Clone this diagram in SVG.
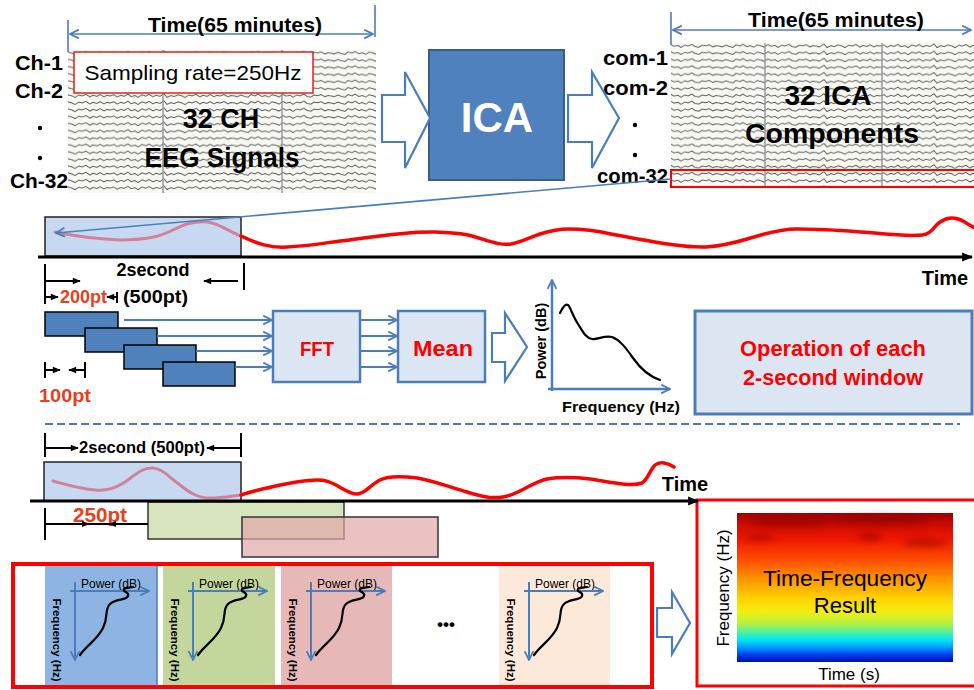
<svg xmlns="http://www.w3.org/2000/svg" width="974" height="690" viewBox="0 0 974 690">
<defs>
<style>
.b{font-family:"Liberation Sans",Arial,sans-serif;font-weight:bold;fill:#000}
.n{font-family:"Liberation Sans",Arial,sans-serif;font-weight:normal;fill:#000}
.r{fill:#ff0000}
.o{fill:#e8401a}
.bl{stroke:#4a7ebb;fill:none}
.blk{stroke:#000;fill:none}
.blockarrow{fill:#fff;stroke:#4a7ebb;stroke-width:2.2;stroke-linejoin:miter}
.win{fill:#c6d9f1;stroke:#222;stroke-width:1.5}
.proc{fill:#dce6f2;stroke:#4a7ebb;stroke-width:2.5}
.bar{fill:#4f81bd;stroke:#000;stroke-width:1.5}
.wave{fill:none;stroke:#ff0000;stroke-width:3.5;stroke-linecap:round}
.pale{fill:none;stroke:#d8485e;stroke-opacity:0.6;stroke-width:3;stroke-linecap:round}
.eegbg{fill:#f6f8f1}
.grid{stroke:#9a9a9a;stroke-width:1.5}
.spec{fill:none;stroke:#000;stroke-width:2.2;stroke-linecap:round}
</style>
<marker id="chev" viewBox="0 0 10 10" refX="9" refY="5" markerUnits="userSpaceOnUse" markerWidth="11" markerHeight="11" orient="auto-start-reverse">
<path d="M1,1 L9,5 L1,9" fill="none" stroke="#4a7ebb" stroke-width="1.6"/>
</marker>
<marker id="tri" viewBox="0 0 10 10" refX="9" refY="5" markerUnits="userSpaceOnUse" markerWidth="9" markerHeight="8" orient="auto-start-reverse">
<path d="M0,1 L10,5 L0,9 Z" fill="#000"/>
</marker>
<marker id="bigtri" viewBox="0 0 10 10" refX="9" refY="5" markerUnits="userSpaceOnUse" markerWidth="12" markerHeight="11" orient="auto">
<path d="M0,1 L10,5 L0,9 Z" fill="#000"/>
</marker>
<!-- EEG trace texture: one jittered trace per tile -->
<pattern id="eeg" patternUnits="userSpaceOnUse" width="110" height="7.1">
<path d="M0,3.5 L4,2.4 7,4.6 11,2.9 14,4.0 18,1.8 21,4.2 25,3.2 28,5.0 32,2.5 36,3.8 39,2.0 43,4.4 46,3.0 50,3.9 54,1.4 57,4.9 61,3.1 64,4.2 68,2.4 72,3.6 75,5.1 79,2.6 82,3.5 86,2.0 90,4.5 93,2.9 97,4.0 100,2.3 104,4.4 107,3.0 110,3.5" fill="none" stroke="#555" stroke-width="0.9"/>
</pattern>
<pattern id="eegB" patternUnits="userSpaceOnUse" width="97" height="7.1" x="40">
<path d="M0,3.5 L3,4.3 7,2.6 10,3.8 14,4.8 17,2.3 21,3.6 24,1.8 28,4.2 31,3.1 35,4.7 38,2.4 42,3.3 45,4.5 49,2.1 52,3.7 56,2.9 59,4.9 63,2.6 66,3.6 70,1.9 73,4.0 77,4.6 80,2.7 84,3.4 87,2.2 91,4.3 94,3.1 97,3.5" fill="none" stroke="#555" stroke-width="0.9"/>
</pattern>
<clipPath id="cl1"><rect x="68" y="50" width="308" height="143"/></clipPath>
<clipPath id="cl2"><rect x="671" y="43" width="303" height="145"/></clipPath>
<linearGradient id="tf" x1="0" y1="0" x2="0" y2="1">
<stop offset="0" stop-color="#a00000"/>
<stop offset="0.07" stop-color="#c80a00"/>
<stop offset="0.18" stop-color="#f01800"/>
<stop offset="0.32" stop-color="#ff5000"/>
<stop offset="0.45" stop-color="#ff9800"/>
<stop offset="0.57" stop-color="#ffd000"/>
<stop offset="0.66" stop-color="#f4ee10"/>
<stop offset="0.74" stop-color="#b8f040"/>
<stop offset="0.80" stop-color="#50f0a0"/>
<stop offset="0.85" stop-color="#00e8f0"/>
<stop offset="0.90" stop-color="#00a0ff"/>
<stop offset="0.95" stop-color="#0040f0"/>
<stop offset="1" stop-color="#0010a0"/>
</linearGradient>
<filter id="soft" x="-50%" y="-50%" width="200%" height="200%"><feGaussianBlur stdDeviation="3"/></filter>
<!-- spectrum sketch used in every window panel -->
<g id="panel">
<text class="n" x="81" y="588" font-size="12">Power (dB)</text>
<line class="bl" x1="70" y1="591" x2="149" y2="591" stroke-width="2" marker-end="url(#chev)"/>
<line class="bl" x1="75" y1="582" x2="75" y2="660" stroke-width="2" marker-end="url(#chev)"/>
<text class="b" font-size="11.5" text-anchor="middle" transform="translate(53,640) rotate(90)">Frequency (Hz)</text>
<path class="spec" d="M80,655 C87,645 97,640 103,628 C109,616 104,610 110,604 C116,598 126,601 128,596 C130,592 122,592 124,589 C126,587 130,588 133,587"/>
</g>
</defs>

<rect x="0" y="0" width="974" height="690" fill="#fff"/>

<!-- raw EEG recording -->
<g id="eeg-signals">
<rect class="eegbg" x="68" y="50" width="308" height="143"/>
<g clip-path="url(#cl1)">
<rect x="68" y="50" width="154" height="143" fill="url(#eeg)"/>
<rect x="222" y="50" width="154" height="143" fill="url(#eegB)"/>
</g>
<line class="grid" x1="163" y1="50" x2="163" y2="193"/>
<line class="grid" x1="282" y1="50" x2="282" y2="193"/>
<line class="bl" x1="68" y1="20" x2="68" y2="52" stroke-width="1.6"/>
<line class="bl" x1="375" y1="5" x2="375" y2="37" stroke-width="1.6"/>
<line class="bl" x1="70" y1="34" x2="373" y2="34" stroke-width="1.6" marker-start="url(#chev)" marker-end="url(#chev)"/>
<text class="b" x="235" y="32" font-size="19.5" text-anchor="middle" textLength="174" lengthAdjust="spacingAndGlyphs">Time(65 minutes)</text>
<rect x="74" y="52" width="239" height="41" fill="#fff" stroke="#e02020" stroke-width="1.5"/>
<text class="n" x="193" y="80" font-size="21" text-anchor="middle" textLength="217" lengthAdjust="spacingAndGlyphs">Sampling rate=250Hz</text>
<text class="b" x="221" y="128" font-size="27" text-anchor="middle">32 CH</text>
<text class="b" x="222" y="167" font-size="27" text-anchor="middle" textLength="155" lengthAdjust="spacingAndGlyphs">EEG Signals</text>
<text class="b" x="39" y="70" font-size="21" text-anchor="middle" textLength="48" lengthAdjust="spacingAndGlyphs">Ch-1</text>
<text class="b" x="39" y="98" font-size="21" text-anchor="middle" textLength="48" lengthAdjust="spacingAndGlyphs">Ch-2</text>
<circle cx="40" cy="128" r="2.2" fill="#000"/>
<circle cx="40" cy="158" r="2.2" fill="#000"/>
<text class="b" x="39" y="188" font-size="21" text-anchor="middle" textLength="58" lengthAdjust="spacingAndGlyphs">Ch-32</text>
</g>

<!-- ICA block -->
<g id="ica">
<rect x="429" y="50" width="135" height="130" fill="#4f81bd" stroke="#385d8a" stroke-width="2"/>
<text x="497" y="132" font-size="42" text-anchor="middle" font-family="Liberation Sans, Arial, sans-serif" font-weight="bold" fill="#fff">ICA</text>
</g>

<!-- ICA components -->
<g id="ica-components">
<rect class="eegbg" x="671" y="43" width="303" height="145"/>
<g clip-path="url(#cl2)">
<rect x="671" y="43" width="150" height="145" fill="url(#eegB)"/>
<rect x="821" y="43" width="153" height="145" fill="url(#eeg)"/>
</g>
<line class="grid" x1="765" y1="43" x2="765" y2="188"/>
<line class="grid" x1="882" y1="43" x2="882" y2="188"/>
<rect x="671" y="170" width="305" height="17" fill="none" stroke="#ff0000" stroke-width="2"/>
<line class="bl" x1="671" y1="12" x2="671" y2="45" stroke-width="1.6"/>
<line class="bl" x1="673" y1="30" x2="971" y2="30" stroke-width="1.6" marker-start="url(#chev)" marker-end="url(#chev)"/>
<text class="b" x="836" y="27" font-size="19.5" text-anchor="middle" textLength="176" lengthAdjust="spacingAndGlyphs">Time(65 minutes)</text>
<text class="b" x="828" y="105" font-size="28" text-anchor="middle">32 ICA</text>
<text class="b" x="832" y="143" font-size="28" text-anchor="middle" textLength="174" lengthAdjust="spacingAndGlyphs">Components</text>
<text class="b" x="668" y="65" font-size="21" text-anchor="end" textLength="65" lengthAdjust="spacingAndGlyphs">com-1</text>
<text class="b" x="668" y="95" font-size="21" text-anchor="end" textLength="65" lengthAdjust="spacingAndGlyphs">com-2</text>
<circle cx="635" cy="125" r="2.2" fill="#000"/>
<circle cx="635" cy="155" r="2.2" fill="#000"/>
<text class="b" x="668" y="183" font-size="21" text-anchor="end" textLength="71" lengthAdjust="spacingAndGlyphs">com-32</text>
</g>

<!-- windowing of one component -->
<g id="window-top">
<rect class="win" x="45" y="217" width="196" height="39"/>
<path class="pale" d="M55,232 C75,236 95,239 120,240 C145,240 160,237 175,229 C188,222 198,221 208,222 C220,224 230,232 241,236"/>
<path class="wave" d="M241,236 C258,244 270,248 287,247 C310,246 330,242 349,240 C380,236 410,231 435,232 C450,233 458,233 468,235 C485,239 498,246 511,244 C522,242 528,238 540,234 C550,231 558,229 568,229 C585,229 598,231 611,234 C645,240 680,248 706,247 C725,246 740,241 754,237 C770,232 782,229 797,229 C815,229 832,230 849,231 C880,233 905,237 922,235 C932,234 934,226 940,222 C946,218 952,217 958,219 C965,221 970,226 975,228"/>
<text class="b" x="945" y="285" font-size="20" text-anchor="middle">Time</text>
<text class="b" x="153" y="276" font-size="18" text-anchor="middle">2second</text>
<text class="b o" x="60" y="303" font-size="18" textLength="47" lengthAdjust="spacingAndGlyphs">200pt</text>
<text class="b" x="123" y="303" font-size="18" textLength="65" lengthAdjust="spacingAndGlyphs">(500pt)</text>
<text class="b o" x="65" y="402" font-size="18" text-anchor="middle" textLength="52" lengthAdjust="spacingAndGlyphs">100pt</text>
</g>

<!-- sliding sub-windows -->
<g id="subwindows">
<rect class="bar" x="45" y="312" width="73" height="24"/>
<rect class="bar" x="85" y="328" width="72" height="24"/>
<rect class="bar" x="124" y="345" width="72" height="24"/>
<rect class="bar" x="163" y="362" width="72" height="24"/>
</g>

<g id="fft">
<rect class="proc" x="273" y="311" width="87" height="71"/>
<text class="b r" x="317" y="356" font-size="21" text-anchor="middle" textLength="34" lengthAdjust="spacingAndGlyphs">FFT</text>
</g>

<g id="mean">
<rect class="proc" x="398" y="311" width="87" height="71"/>
<text class="b r" x="443" y="356" font-size="22" text-anchor="middle" textLength="60" lengthAdjust="spacingAndGlyphs">Mean</text>
</g>

<g id="spectrum">
<line class="bl" x1="552" y1="391" x2="552" y2="280" stroke-width="2.5" marker-end="url(#chev)"/>
<line class="bl" x1="548" y1="389" x2="670" y2="389" stroke-width="2.5" marker-end="url(#chev)"/>
<path class="spec" d="M560,313 C563,307 566,302 569,306 C572,312 574,318 578,324 C583,332 586,338 592,339 C598,340 604,335 612,337 C620,340 626,348 633,358 C640,368 648,376 660,380"/>
<text class="b" font-size="14.5" text-anchor="middle" transform="translate(546,341) rotate(-90)">Power (dB)</text>
<text class="b" x="621" y="412" font-size="15.5" text-anchor="middle" textLength="118" lengthAdjust="spacingAndGlyphs">Frequency (Hz)</text>
</g>

<g id="operation">
<rect x="695" y="311" width="277" height="103" fill="#dce6f2" stroke="#4a7ebb" stroke-width="3"/>
<text class="b r" x="833" y="356" font-size="22" text-anchor="middle" textLength="186" lengthAdjust="spacingAndGlyphs">Operation of each</text>
<text class="b r" x="833" y="385" font-size="22" text-anchor="middle" textLength="180" lengthAdjust="spacingAndGlyphs">2-second window</text>
</g>

<!-- overlapping windows along the component -->
<g id="window-bottom">
<rect class="win" x="44" y="462" width="197" height="39"/>
<path class="pale" d="M53,481 C68,485 80,489 95,490 C108,491 115,488 125,482 C135,475 143,467 153,468 C163,469 170,478 180,485 C190,493 198,498 210,498 C222,498 232,496 241,495"/>
<path class="wave" d="M241,495 C250,492 258,490 267,488 C285,484 302,480 317,480 C326,480 330,482 336,485 C345,490 350,494 357,494 C365,494 370,485 380,480 C388,476 400,476 417,478 C435,481 452,488 467,492 C480,496 490,499 503,497 C520,494 532,482 547,479 C560,477 572,477 590,479 C610,482 630,487 642,483 C648,479 650,470 655,465 C660,461 668,463 674,467"/>
<rect x="148" y="502" width="196" height="37" fill="#d7e4bd" stroke="#333" stroke-width="1.5"/>
<rect x="242" y="517" width="196" height="40" fill="#e0a8a6" fill-opacity="0.7" stroke="#333" stroke-width="1.5"/>
<text class="b" x="685" y="491" font-size="20" text-anchor="middle">Time</text>
<text class="b" x="142" y="453" font-size="17" text-anchor="middle" textLength="126" lengthAdjust="spacingAndGlyphs">2second (500pt)</text>
<text class="b o" x="100" y="522" font-size="20" text-anchor="middle" textLength="54" lengthAdjust="spacingAndGlyphs">250pt</text>
</g>

<!-- spectra of successive windows -->
<g id="window-spectra">
<rect x="45" y="565" width="112" height="122" fill="#8eb4e3"/>
<line x1="157" y1="565" x2="157" y2="687" stroke="#4a7ebb" stroke-width="1.5"/>
<rect x="163" y="565" width="112" height="122" fill="#c3d69b"/>
<rect x="281" y="565" width="111" height="122" fill="#e6b9b8"/>
<rect x="499" y="565" width="111" height="122" fill="#fde9d9"/>
<use href="#panel"/>
<use href="#panel" transform="translate(118,0)"/>
<use href="#panel" transform="translate(236,0)"/>
<use href="#panel" transform="translate(454,0)"/>
<text class="b" x="446" y="630" font-size="17" text-anchor="middle">•••</text>
<rect x="13" y="564" width="639" height="123" fill="none" stroke="#ff0000" stroke-width="4"/>
</g>

<!-- time-frequency map -->
<g id="tf-result">
<rect x="697" y="500" width="280" height="186" fill="#fff" stroke="#ff0000" stroke-width="3"/>
<rect x="737" y="513" width="216" height="149" fill="url(#tf)"/>
<g filter="url(#soft)" fill="#7a0000" opacity="0.45">
<ellipse cx="790" cy="522" rx="40" ry="5"/>
<ellipse cx="880" cy="520" rx="50" ry="5"/>
<ellipse cx="870" cy="537" rx="12" ry="4"/>
<ellipse cx="925" cy="543" rx="22" ry="4"/>
<ellipse cx="760" cy="538" rx="15" ry="3"/>
</g>
<text class="n" x="845" y="586" font-size="22" text-anchor="middle" textLength="164" lengthAdjust="spacingAndGlyphs">Time-Frequency</text>
<text class="n" x="845" y="613" font-size="22" text-anchor="middle">Result</text>
<text class="n" font-size="17" text-anchor="middle" transform="translate(729,588) rotate(-90)">Frequency  (Hz)</text>
<text class="n" x="849" y="680" font-size="17" text-anchor="middle">Time (s)</text>
</g>

<!-- connectors -->
<g id="connectors">
<polygon class="blockarrow" points="382,95 405,95 405,72 430,118 405,168 405,142 382,142"/>
<polygon class="blockarrow" points="568,95 592,95 592,72 619,118 592,168 592,142 568,142"/>
<polygon class="blockarrow" points="492,333 505,333 505,313 527,347 505,381 505,362 492,362"/>
<polygon class="blockarrow" points="657,608 672,608 672,592 690,623 672,654 672,637 657,637"/>
<line class="bl" x1="671" y1="179" x2="56" y2="233" stroke-width="1.6" marker-end="url(#chev)"/>
<line x1="38" y1="257" x2="972" y2="257" stroke="#000" stroke-width="3" marker-end="url(#bigtri)"/>
<line x1="30" y1="501" x2="698" y2="501" stroke="#000" stroke-width="3" marker-end="url(#bigtri)"/>
<line class="bl" x1="45" y1="424" x2="960" y2="424" stroke-width="2" stroke-dasharray="8,4"/>
<!-- sub-window feeds into FFT and Mean -->
<line class="bl" x1="124" y1="320" x2="272" y2="320" stroke-width="2" marker-end="url(#chev)"/>
<line class="bl" x1="157" y1="336" x2="272" y2="336" stroke-width="2" marker-end="url(#chev)"/>
<line class="bl" x1="196" y1="351" x2="272" y2="351" stroke-width="2" marker-end="url(#chev)"/>
<line class="bl" x1="235" y1="367" x2="272" y2="367" stroke-width="2" marker-end="url(#chev)"/>
<line class="bl" x1="360" y1="320" x2="397" y2="320" stroke-width="2" marker-end="url(#chev)"/>
<line class="bl" x1="360" y1="336" x2="397" y2="336" stroke-width="2" marker-end="url(#chev)"/>
<line class="bl" x1="360" y1="351" x2="397" y2="351" stroke-width="2" marker-end="url(#chev)"/>
<line class="bl" x1="360" y1="367" x2="397" y2="367" stroke-width="2" marker-end="url(#chev)"/>
<!-- dimension marks -->
<g class="blk" stroke-width="2">
<line x1="45" y1="264" x2="45" y2="304"/>
<line x1="244" y1="263" x2="244" y2="290"/>
<line x1="46" y1="281" x2="80" y2="281" marker-end="url(#tri)"/>
<line x1="238" y1="281" x2="204" y2="281" marker-end="url(#tri)"/>
<line x1="46" y1="297" x2="58" y2="297" marker-end="url(#tri)"/>
<line x1="116" y1="297" x2="107" y2="297" marker-end="url(#tri)"/>
<line x1="117" y1="292" x2="117" y2="303"/>
<line x1="45" y1="362" x2="45" y2="378"/>
<line x1="85" y1="362" x2="85" y2="378"/>
<line x1="46" y1="370" x2="60" y2="370" marker-end="url(#tri)"/>
<line x1="84" y1="370" x2="69" y2="370" marker-end="url(#tri)"/>
<line x1="45" y1="433" x2="45" y2="457"/>
<line x1="241" y1="433" x2="241" y2="457"/>
<line x1="46" y1="448" x2="78" y2="448" marker-end="url(#tri)"/>
<line x1="240" y1="448" x2="207" y2="448" marker-end="url(#tri)"/>
<line x1="45" y1="508" x2="45" y2="540"/>
<line x1="45" y1="524" x2="148" y2="524"/>
</g>
<polygon points="82,521 90,524 82,527" fill="#000"/>
<polygon points="116,521 108,524 116,527" fill="#000"/>
</g>
</svg>
